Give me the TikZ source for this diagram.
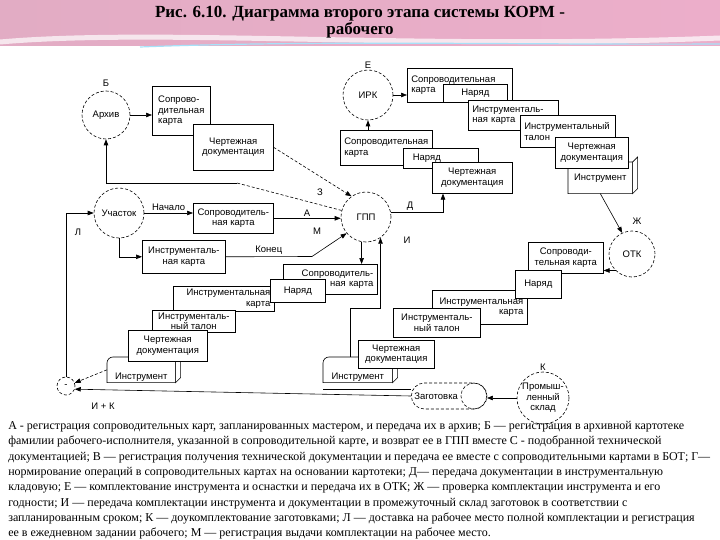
\documentclass[tikz,border=0pt]{standalone}
\usepackage{fontspec}
\setmainfont{Liberation Serif}
\setsansfont{Liberation Sans}
\usetikzlibrary{positioning,arrows.meta,shapes.misc}

\newcommand{\diagfont}{\sffamily\fontsize{9.5}{10.5}\selectfont}
\newcommand{\capfont}{\rmfamily\fontsize{12}{15.3}\selectfont}
\newcommand{\titlefont}{\rmfamily\bfseries\fontsize{17}{17}\selectfont}

\definecolor{bandleft}{RGB}{226,172,196}
\definecolor{bandmid}{RGB}{243,220,168}
\definecolor{bandright}{RGB}{236,174,202}

% outline of a tool box: rounded top-left corner and a side face
\newcommand{\toolbox}[1]{%
  \draw (#1.south west) -- ([yshift=-6pt]#1.north west)
    arc[start angle=180, end angle=90, radius=6pt] -- (#1.north east)
    -- (#1.south east) -- cycle;
  \draw[fill=white] (#1.north east) -- ([shift={(5pt,5pt)}]#1.north east)
    -- ([shift={(5pt,5pt)}]#1.south east) -- (#1.south east) -- cycle;}

\begin{document}
\begin{tikzpicture}[x=1pt, y=-1pt, line width=0.6pt,
  place/.style={circle, draw, densely dashed, minimum size=#1, inner sep=0pt, font=\diagfont, align=center},
  card/.style 2 args={draw, fill=white, anchor=north west, minimum width=#1, minimum height=#2, inner xsep=3pt, inner ysep=1pt, font=\diagfont},
  tool/.style 2 args={fill=white, anchor=north west, minimum width=#1, minimum height=#2, inner sep=1pt, font=\diagfont},
  arr/.style={-{Triangle[length=6pt, width=4.5pt]}},
  lbl/.style={font=\diagfont, inner sep=1pt}]

\useasboundingbox (0,0) rectangle (720,540);

\shade[left color=bandleft, middle color=bandmid, right color=bandright] (0,0) rectangle (720,46);
\draw[white, line width=5pt, opacity=0.7] (0,42) .. controls (160,28) and (420,50) .. (720,38);
\draw[cyan!35, line width=1.2pt] (140,47) .. controls (320,40) and (520,45) .. (720,44);
\node[font=\titlefont, align=center] (title) at (360,22) {Рис. 6.10. Диаграмма второго этапа системы КОРМ -\\рабочего};

% circles
\node[place=48, label={[lbl, label distance=3pt]above:Б}] (archiv) at (106,115) {Архив};
\node[place=50, label={[lbl]above:Е}] (irk) at (368,95) {ИРК};
\node[place=50] (uch) at (119,213) {Участок};
\node[place=50] (gpp) at (366,217) {ГПП};
\node[place=46] (otk) at (632,254) {ОТК};
\node[place=52, label={[lbl]above:К}] (sklad) at (543,398) {Промыш-\\ленный\\склад};
\node[place=18] (junc) at (66,386) {-};
\node[draw, densely dashed, rounded rectangle, minimum width=82pt, minimum height=26pt] (zag) at (449,396) {};
\node[place=26] (zagc) at ([xshift=-13pt]zag.east) {};
\node[lbl, right=2pt of zag.west] (zagtext) {Заготовка};

% cards at the archive and the section
\node[card={58}{49}, align=left] (a1) at (152,86) {Сопрово-\\дительная\\карта};
\node[card={80}{46}, align=center] (a2) at (193,124) {Чертежная\\документация};
\node[card={80}{30}, align=center] (b1) at (193,203) {Сопроводитель-\\ная карта};
\node[card={83}{33}, align=center] (b2) at (142,240) {Инструменталь-\\ная карта};

% cards into the ИРК
\node[card={92}{35}, align=left] (d1) at (340,130) {Сопроводительная\\карта};
\node[card={75}{20}, text width=56pt, align=left] (d2) at (403,148) {Наряд};
\node[card={80}{31}, align=center] (d3) at (432,162) {Чертежная\\документация};

% cards out of the ИРК
\node[card={105}{34}, text width=97pt, align=left] (c1) at (407,68) {Сопроводительная\\карта};
\node[card={64}{18}, align=center] (c2) at (443,84) {Наряд};
\node[card={90}{30}, text width=82pt, align=left] (c3) at (468,100) {Инструменталь-\\ная карта};
\node[card={95}{32}, text width=87pt, align=left] (c4) at (520,115) {Инструментальный\\талон};
\node[tool={64}{31}] (c6) at (568,162) {Инструмент};
\toolbox{c6}
\node[card={73}{31}, align=center] (c5) at (555,137) {Чертежная\\документация};

% cards out of the ОТК
\node[card={75}{31}, align=center] (e1) at (528,242) {Сопроводи-\\тельная карта};
\node[card={95}{34}, text width=87pt, align=right] (e3) at (432,290) {Инструментальная\\карта};
\node[card={46}{28}, align=center] (e2) at (515,270) {Наряд};
\node[card={87}{29}, align=center] (e4) at (393,308) {Инструменталь-\\ный талон};
\node[tool={69}{25}, text height=21pt, text depth=2pt] (e6) at (323,357) {Инструмент};
\toolbox{e6}
\node[card={76}{28}, align=center] (e5) at (358,340) {Чертежная\\документация};

% cards out of the ГПП
\node[card={94}{30}, text width=86pt, align=right] (f1) at (283,264) {Сопроводитель-\\ная карта};
\node[card={101}{25}, text width=93pt, align=right] (f3) at (173,286) {Инструментальная\\карта};
\node[card={55}{23}, align=center] (f2) at (270,279) {Наряд};
\node[card={83}{22}, align=center] (f4) at (152,310) {Инструменталь-\\ный талон};
\node[tool={68}{25}, text height=21pt, text depth=2pt] (f6) at (107,357) {Инструмент};
\toolbox{f6}
\node[card={79}{31}, align=center] (f5) at (128,330) {Чертежная\\документация};

\coordinate (zBend) at (237,183);
\coordinate (mBend) at (312,256.5);
\coordinate (iUp) at (350,357);
\coordinate (iBend) at (350,308);
\coordinate (dTip) at ([xshift=11pt]d3.south west);
\coordinate (eLine) at (323,389);

% connectors
\draw[arr] (archiv.east) -- (archiv.east -| a1.west);
\draw[arr, densely dashed] (a2.east) -- (gpp.125);
\draw[densely dashed] (gpp.165) -- (zBend);
\draw[arr] (zBend) -- (zBend -| archiv.south) -- (archiv.south);
\draw[arr] (uch.east) -- (uch.east -| b1.west) node[lbl, midway, above=1pt] (lblNach) {Начало};
\draw[arr] (b1.east) -- (b1.east -| gpp.west) node[lbl, midway, above=1pt] (lblA) {А};
\draw[arr] (uch.south) -- (uch.south |- b2.west) -- (b2.west);
\draw[arr] (b2.east) -- (mBend) node[lbl, midway, above=1pt] (lblKon) {Конец} -- (gpp.220);
\draw[arr] (junc.north) -- (junc.north |- uch.west) -- (uch.west);
\draw[arr, densely dashed] (f6.west) -- (junc.20);
\draw[arr] (zag.west) -- (junc.-20);
\draw (eLine) -- (eLine -| zag.west);
\draw[arr] (iUp) -- (iBend) -- (iBend -| gpp.-55) -- (gpp.-55);
\draw[arr] (gpp.-100) -- (gpp.-100 |- f1.north);
\draw[arr] (gpp.10) -- (gpp.10 -| dTip) -- (dTip);
\draw[arr] (irk.south |- d1.north) -- (irk.south);
\draw[arr] (irk.east) -- (irk.east -| c1.west);
\draw[arr] (c6.south) -- (otk.115);
\draw[arr] (otk.225) -- (otk.225 -| e1.east);
\draw[arr] (sklad.west) -- (sklad.west -| zag.east);

% letters at the connectors
\node[lbl] (lblZ) at (320,192) {З};
\node[lbl] (lblM) at (317,231) {М};
\node[lbl] (lblL) at (78,232) {Л};
\node[lbl] (lblD) at (410,206) {Д};
\node[lbl] (lblI) at (407,240) {И};
\node[lbl] (lblZh) at (637,221) {Ж};
\node[lbl] (lblIK) at (103,406) {И + К};

\node[font=\capfont, anchor=north west, align=left, inner sep=0pt] (caption) at (8,421) {%
А - регистрация сопроводительных карт, запланированных мастером, и передача их в архив; Б — регистрация в архивной картотеке\\
фамилии рабочего-исполнителя, указанной в сопроводительной карте, и возврат ее в ГПП вместе С - подобранной технической\\
документацией; В — регистрация получения технической документации и передача ее вместе с сопроводительными картами в БОТ; Г—\\
нормирование операций в сопроводительных картах на основании картотеки; Д— передача документации в инструментальную\\
кладовую; Е — комплектование инструмента и оснастки и передача их в ОТК; Ж — проверка комплектации инструмента и его\\
годности; И — передача комплектации инструмента и документации в промежуточный склад заготовок в соответствии с\\
запланированным сроком; К — доукомплектование заготовками; Л — доставка на рабочее место полной комплектации и регистрация\\
ее в ежедневном задании рабочего; М — регистрация выдачи комплектации на рабочее место.};
\end{tikzpicture}
\end{document}
